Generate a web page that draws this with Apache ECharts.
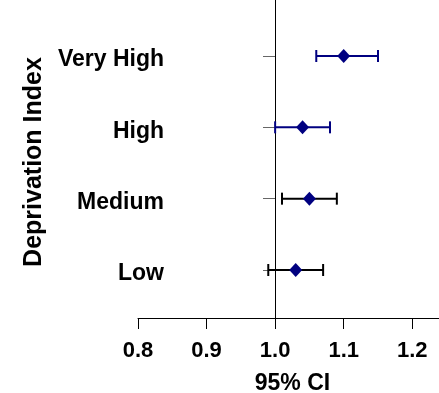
<!DOCTYPE html>
<html>
<head>
<meta charset="utf-8">
<script src="https://cdn.jsdelivr.net/npm/echarts@6/dist/echarts.min.js"></script>
<style>
html,body{margin:0;padding:0;background:#fff;}
#main{width:439px;height:393px;}
</style>
</head>
<body>
<div id="main"></div>
<script>
// Data
const categories = ['Low', 'Medium', 'High', 'Very High'];
const estimates = [1.03, 1.05, 1.04, 1.10];
const lowerCI = [0.99, 1.01, 1.00, 1.06];
const upperCI = [1.07, 1.09, 1.08, 1.15];
const xTicks = [0.8, 0.9, 1.0, 1.1, 1.2];
const yPositions = [1, 2, 3, 4];

// Styles
const barColors = ['#000000', '#000000', '#000080', '#000080'];
const FONT = "'Liberation Sans', Arial, sans-serif";

const ciData = categories.map((c, i) => [yPositions[i], lowerCI[i], upperCI[i], i]);
const pointData = categories.map((c, i) => [estimates[i], yPositions[i]]);

const chart = echarts.init(document.getElementById('main'), null, {renderer: 'canvas'});
chart.setOption({
  animation: false,
  backgroundColor: '#ffffff',
  grid: {left: 138, right: 0, top: 0, height: 318, containLabel: false, outerBoundsMode: 'none'},
  xAxis: {
    type: 'value',
    min: 0.8,
    max: 1.239,
    name: '95% CI',
    nameLocation: 'middle',
    nameGap: 54,
    nameTextStyle: {fontFamily: FONT, fontSize: 23, fontWeight: 'bold', color: '#000', padding: [0, 0, 0, 8]},
    axisLine: {show: true, lineStyle: {color: '#000', width: 1}},
    axisTick: {show: true, length: 11, lineStyle: {color: '#000'}, customValues: xTicks},
    axisLabel: {
      customValues: xTicks,
      margin: 22,
      fontFamily: FONT, fontSize: 22, fontWeight: 'bold', color: '#000',
      formatter: v => v.toFixed(1)
    },
    splitLine: {show: false}
  },
  yAxis: {
    type: 'value',
    min: 0.327,
    max: 4.785,
    position: 'left',
    offset: -137,
    name: 'Deprivation Index',
    nameLocation: 'middle',
    nameRotate: 90,
    nameGap: 228,
    nameTextStyle: {fontFamily: FONT, fontSize: 25, fontWeight: 'bold', color: '#000', padding: [0, 6, 0, 0]},
    axisLine: {show: true, onZero: false, lineStyle: {color: '#000', width: 1}},
    axisTick: {show: true, length: 12, lineStyle: {color: '#666'}, customValues: yPositions},
    axisLabel: {
      customValues: yPositions,
      margin: 111,
      verticalAlign: 'top',
      lineHeight: 8,
      fontFamily: FONT, fontSize: 23, fontWeight: 'bold', color: '#000',
      formatter: v => categories[Math.round(v) - 1] || ''
    },
    splitLine: {show: false}
  },
  series: [
    {
      type: 'custom',
      data: ciData,
      z: 2,
      renderItem: function (params, api) {
        const y = api.value(0);
        const lo = api.coord([api.value(1), y]);
        const hi = api.coord([api.value(2), y]);
        const color = barColors[api.value(3)];
        const cap = 6;
        const style = {stroke: color, lineWidth: 2};
        return {
          type: 'group',
          children: [
            {type: 'line', shape: {x1: lo[0], y1: lo[1], x2: hi[0], y2: hi[1]}, style: style},
            {type: 'line', shape: {x1: lo[0], y1: lo[1] - cap, x2: lo[0], y2: lo[1] + cap}, style: style},
            {type: 'line', shape: {x1: hi[0], y1: hi[1] - cap, x2: hi[0], y2: hi[1] + cap}, style: style}
          ]
        };
      }
    },
    {
      type: 'scatter',
      data: pointData,
      z: 3,
      symbol: 'diamond',
      symbolSize: [13, 14],
      itemStyle: {color: '#000080', opacity: 1}
    }
  ]
});
</script>
</body>
</html>
